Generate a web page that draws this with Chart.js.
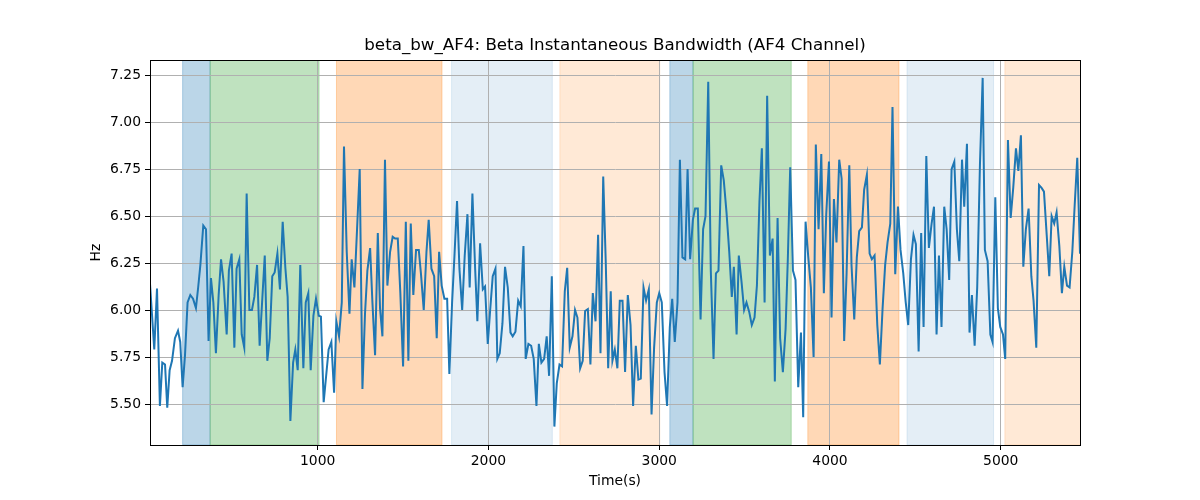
<!DOCTYPE html>
<html>
<head>
<meta charset="utf-8">
<script src="https://cdn.jsdelivr.net/npm/chart.js@4.4.0/dist/chart.umd.min.js"></script>
<style>
  body { margin: 0; background: #fff; }
  #wrap { width: 1200px; height: 500px; }
</style>
</head>
<body>
<div id="wrap"><canvas id="bwChart" width="1200" height="500"></canvas></div>
<script>
// sample times (s) and beta bandwidth (Hz)
var times = [
  18,43,59,76,90,106,119,133,147,164,182,195,209,223,238,254,270,287,300,313,330,346,361,375,389,404,420,434,449,467,480,496,512,525,541,555,570,584,600,615,629,645,660,
  690,705,719,734,748,764,779,795,811,824,840,856,869,883,898,916,930,945,959,975,990,1006,1019,1035,1049,1064,1080,1096,1109,1125,1141,1154,1170,1186,1199,1215,1230,1246,1262,1277,1291,1307,1320,1336,1352,1365,
  1379,1394,1408,1424,1439,1453,1469,1484,1500,1516,1531,1545,1560,1576,1592,1605,1621,1637,1650,1666,1682,1697,1711,1726,1742,1758,1771,1787,1801,1816,1830,1846,1861,1877,1890,1906,1922,1935,1951,1967,1980,1996,2010,2025,2041,
  2052,2066,2082,2097,2113,2129,2142,2158,2174,2189,2205,2218,2234,2250,2265,2281,2295,2310,2326,2341,2355,2371,2386,2400,2416,2431,2447,2461,2476,2492,2507,2521,2537,2552,2566,2582,2597,2611,2627,2642,2656,2672,2687,2701,2716,
  2726,2740,2755,2769,2785,2800,2816,2832,2847,2863,2878,2892,2908,2923,2939,2955,2970,2986,3000,3015,3031,3046,3062,3076,3091,3107,3121,3136,3152,3166,3181,3197,3210,3226,3242,3257,3271,3287,3302,3318,3332,3347,3363,3378,3394,
  3410,3425,3437,3453,3466,3482,3497,3511,3527,3542,3558,3572,3587,3601,3617,3632,3648,3664,3677,3693,3708,3724,3740,3753,3767,3783,3798,3814,3830,3843,3857,3872,3888,3904,3917,3933,3949,3964,3978,3994,4009,4023,4038,4054,4068,
  4083,4097,4113,4126,4142,4157,4171,4187,4200,4216,4232,4245,4261,4277,4292,4308,4323,4337,4353,4366,4382,4398,4413,4429,4443,4458,4474,4489,4503,4519,4534,4548,4564,4579,4595,4609,4624,4638,4653,4669,4683,4698,4712,4728,4743,
  4757,4773,4786,4802,4817,4831,4847,4862,4878,4894,4907,4923,4939,4952,4968,4983,4997,5013,5026,5042,5058,5073,5089,5103,5118,5132,5147,5163,5179,5192,5208,5224,5239,5253,5269,5284,5298,5313,5327,5343,5358,5372,5388,5403,5419,5433,5448,5464
];
var bandwidth = [
  6.14,5.79,6.115,5.49,5.72,5.71,5.48,5.68,5.73,5.85,5.89,5.83,5.59,5.76,6.04,6.08,6.06,6.01,6.12,6.24,6.45,6.43,5.835,6.17,6.04,5.77,6.08,6.27,6.15,5.87,6.21,6.30,5.80,6.22,6.27,5.87,5.80,6.62,6.00,6.00,6.07,6.24,5.81,
  6.29,5.73,5.85,6.18,6.20,6.30,6.11,6.47,6.22,6.07,5.41,5.72,5.79,5.68,6.24,5.69,6.04,6.09,5.68,5.97,6.06,5.97,5.965,5.51,5.645,5.79,5.83,5.56,5.94,5.86,6.04,6.87,6.31,5.98,6.27,6.12,6.42,6.75,5.58,5.98,6.21,6.33,6.05,5.76,6.41,6.01,
  5.86,6.80,6.13,6.31,6.39,6.38,6.38,6.09,5.70,6.47,5.73,6.46,6.08,6.32,6.32,6.19,6.00,6.31,6.48,6.22,6.18,5.85,6.31,6.13,6.06,6.06,5.66,6.04,6.29,6.58,6.22,6.00,6.29,6.51,6.12,6.62,6.22,5.94,6.355,6.11,6.125,5.82,6.00,6.18,6.22,
  5.74,5.77,5.93,6.23,6.12,5.88,5.86,5.885,6.05,6.02,6.34,5.74,5.82,5.81,5.74,5.49,5.82,5.72,5.74,5.86,5.65,6.18,5.38,5.61,5.71,5.70,6.10,6.225,5.80,5.86,6.00,5.96,5.69,5.73,5.995,6.005,5.71,6.09,5.94,6.40,5.77,6.71,6.25,5.69,6.10,
  5.73,5.79,5.69,6.05,6.05,5.67,6.08,5.92,5.49,5.81,5.63,5.635,6.12,6.05,6.11,5.445,5.80,6.04,6.09,6.04,5.67,5.49,5.91,6.06,5.83,6.04,6.80,6.28,6.27,6.75,6.27,6.48,6.54,6.54,5.95,6.43,6.50,7.215,6.21,5.74,6.195,6.21,6.77,6.69,6.52,
  6.31,6.07,6.23,5.87,6.29,6.15,6.00,6.04,5.99,5.92,5.96,6.13,6.58,6.86,6.04,7.14,6.29,6.38,5.62,6.49,5.85,5.67,5.90,6.27,6.76,6.21,6.16,5.59,5.88,5.43,6.47,6.29,6.12,5.75,6.88,6.43,6.83,6.09,6.51,6.79,5.96,6.59,6.36,6.80,6.70,
  5.835,6.19,6.77,6.24,5.95,6.28,6.42,6.44,6.64,6.72,6.30,6.27,6.29,5.92,5.71,6.01,6.24,6.36,6.46,7.08,6.19,6.55,6.32,6.195,6.045,5.92,6.27,6.40,6.35,5.78,6.41,5.91,6.82,6.33,6.46,6.55,5.87,6.29,5.91,6.55,6.43,6.16,6.75,6.79,6.43,
  6.26,6.80,6.55,6.885,5.88,6.08,5.81,6.12,6.77,7.235,6.32,6.26,5.87,5.83,6.60,6.01,5.91,5.87,5.74,6.905,6.49,6.65,6.86,6.74,6.93,6.23,6.43,6.54,6.18,6.05,5.80,6.665,6.65,6.63,6.40,6.18,6.50,6.46,6.52,6.34,6.09,6.23,6.13,6.12,6.31,6.56,6.81,6.30
];

// shaded segments
var spanStart = [209, 370, 1110, 1784, 2418, 3062, 3198, 3870, 4451, 5024];
var spanEnd   = [370, 1008, 1728, 2374, 3003, 3198, 3773, 4404, 4958, 5500];
var spanColor = [
  'rgba(31,119,180,0.3)', 'rgba(44,160,44,0.3)', 'rgba(255,127,14,0.3)', 'rgba(31,119,180,0.12)', 'rgba(255,127,14,0.17)',
  'rgba(31,119,180,0.3)', 'rgba(44,160,44,0.3)', 'rgba(255,127,14,0.3)', 'rgba(31,119,180,0.12)', 'rgba(255,127,14,0.17)'
];

var xTicks = [1000, 2000, 3000, 4000, 5000];
var yTicks = [5.50, 5.75, 6.00, 6.25, 6.50, 6.75, 7.00, 7.25];

var spanPlugin = {
  id: 'spans',
  beforeDraw: function(chart) {
    var ctx = chart.ctx;
    var area = chart.chartArea;
    var xs = chart.scales.x;
    ctx.save();
    ctx.beginPath();
    ctx.rect(area.left, area.top, area.right - area.left, area.bottom - area.top);
    ctx.clip();
    for (var i = 0; i < spanStart.length; i++) {
      var a = xs.getPixelForValue(spanStart[i]);
      var b = xs.getPixelForValue(spanEnd[i]);
      ctx.fillStyle = spanColor[i];
      ctx.fillRect(a, area.top, b - a, area.bottom - area.top);
      ctx.strokeStyle = spanColor[i];
      ctx.lineWidth = 1;
      ctx.strokeRect(a, area.top, b - a, area.bottom - area.top);
    }
    ctx.restore();
  },
  afterDraw: function(chart) {
    var ctx = chart.ctx;
    var area = chart.chartArea;
    ctx.save();
    ctx.strokeStyle = '#000';
    ctx.lineWidth = 1;
    ctx.strokeRect(Math.round(area.left) + 0.5, Math.round(area.top) + 0.5,
      Math.round(area.right - area.left), Math.round(area.bottom - area.top));
    ctx.restore();
  }
};

function init() {
  var points = [];
  for (var i = 0; i < times.length; i++) {
    points.push({x: times[i], y: bandwidth[i]});
  }

  Chart.defaults.font.family = 'DejaVu Sans';
  Chart.defaults.color = '#000';

  var ctx = document.getElementById('bwChart');
  new Chart(ctx, {
    type: 'line',
    data: {
      datasets: [{
        data: points,
        borderColor: '#1f77b4',
        borderWidth: 2,
        pointRadius: 0,
        tension: 0,
        fill: false
      }]
    },
    options: {
      responsive: false,
      animation: false,
      layout: { padding: { left: 0, right: 120, top: 0, bottom: 0 } },
      plugins: {
        legend: { display: false },
        tooltip: { enabled: false },
        title: {
          display: true,
          fullSize: false,
          text: 'beta_bw_AF4: Beta Instantaneous Bandwidth (AF4 Channel)',
          font: { size: 16.7, weight: 'normal', lineHeight: 1.2 },
          color: '#000',
          padding: { top: 36, bottom: 4 }
        }
      },
      scales: {
        x: {
          type: 'linear',
          min: times[0],
          max: times[times.length - 1],
          afterBuildTicks: function(scale) {
            scale.ticks = xTicks.map(function(v) { return {value: v}; });
          },
          afterFit: function(scale) { scale.height = 55; },
          ticks: {
            maxRotation: 0,
            padding: 3.5,
            font: { size: 13.9 },
            color: '#000',
            callback: function(v) { return String(v); }
          },
          grid: { color: '#b0b0b0', lineWidth: 1, tickColor: '#000', tickLength: 5, tickWidth: 1 },
          border: { display: true, color: '#000', width: 1 },
          title: { display: true, text: 'Time(s)', font: { size: 13.9 }, color: '#000', padding: { top: 0, bottom: 10.6 } }
        },
        y: {
          min: 5.282,
          max: 7.33,
          afterBuildTicks: function(scale) {
            scale.ticks = yTicks.map(function(v) { return {value: v}; });
          },
          afterFit: function(scale) { scale.width = 150; },
          ticks: {
            padding: 4,
            font: { size: 13.9 },
            color: '#000',
            callback: function(v) { return v.toFixed(2); }
          },
          grid: { color: '#b0b0b0', lineWidth: 1, tickColor: '#000', tickLength: 5, tickWidth: 1 },
          border: { display: true, color: '#000', width: 1 },
          title: { display: true, text: 'Hz', font: { size: 13.9 }, color: '#000', padding: { top: 87.6, bottom: 0 } }
        }
      }
    },
    plugins: [spanPlugin]
  });
}

document.addEventListener('DOMContentLoaded', init);
</script>
</body>
</html>
